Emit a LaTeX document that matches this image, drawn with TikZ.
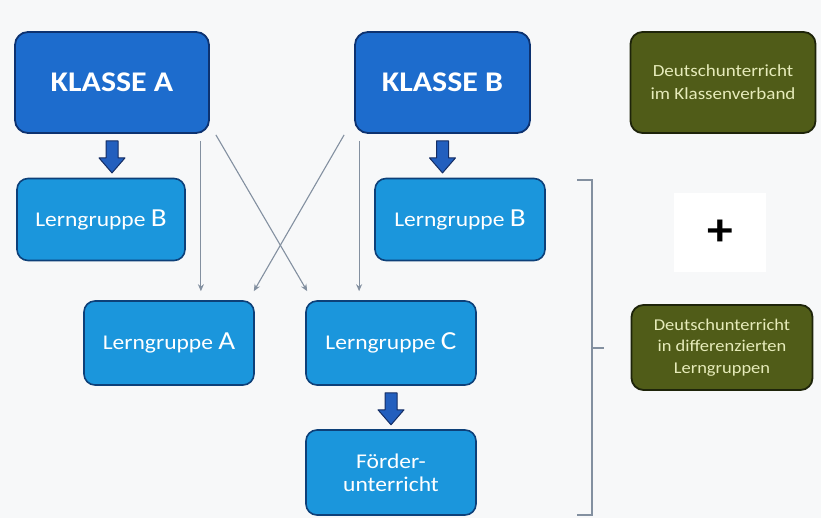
\documentclass[tikz,border=0pt]{standalone}
\usepackage{fontspec}
\setmainfont{Carlito}[FakeStretch=1.12]
\usetikzlibrary{calc,arrows.meta}
\definecolor{bgcol}{HTML}{F7F8F9}
\definecolor{kfill}{HTML}{1D6CCD}
\definecolor{kline}{HTML}{0D3270}
\definecolor{lfill}{HTML}{1B96DC}
\definecolor{lline}{HTML}{0D4079}
\definecolor{gfill}{HTML}{505C18}
\definecolor{gline}{HTML}{1E240A}
\definecolor{gtext}{HTML}{E6EBBA}
\definecolor{afill}{HTML}{235FBE}
\definecolor{aline}{HTML}{142D64}
\definecolor{thin}{HTML}{8390A0}
\tikzset{
  klasse/.style={draw=kline,line width=1.8pt,fill=kfill,rounded corners=13pt,text=white,
    font=\fontsize{28.5}{30}\selectfont\bfseries,minimum height=101pt,inner sep=0pt},
  lern/.style={draw=lline,line width=1.6pt,fill=lfill,rounded corners=11pt,text=white,
    minimum width=170pt,minimum height=84pt,inner sep=0pt,align=center,
    font=\fontsize{21}{23}\selectfont},
  green/.style={draw=gline,line width=1.8pt,fill=gfill,rounded corners=12pt,text=gtext,
    inner sep=0pt,align=center},
  thinarr/.style={draw=thin,line width=1.1pt,-{Stealth[length=7pt,width=6pt]}},
  bracket/.style={draw=thin,line width=1.1pt},
  bigarrow/.pic={\draw[fill=afill,draw=aline,line width=1pt,line join=round]
    (-6,-16) -- (6,-16) -- (6,1) -- (13,1) -- (0,16) -- (-13,1) -- (-6,1) -- cycle;}
}
\newcommand{\bigB}[1]{{\fontsize{26}{26}\selectfont #1}}
\begin{document}
\begin{tikzpicture}[x=1pt,y=-1pt]
\fill[bgcol] (0,0) rectangle (821,518);
\useasboundingbox (0,0) rectangle (821,518);

\node[klasse,minimum width=194pt] (kA) at (112,82.5) {KLASSE A};
\node[klasse,minimum width=175pt] (kB) at (442.5,82.5) {KLASSE B};

\node[lern,minimum width=168pt,minimum height=82pt] (lbA) at (101,219.5) {Lerngruppe \bigB{B}};
\node[lern,minimum height=82pt] (lbB) at (460,219.5) {Lerngruppe \bigB{B}};
\node[lern] (lA) at (169,343) {Lerngruppe \bigB{A}};
\node[lern] (lC) at (391,343) {Lerngruppe \bigB{C}};
\node[lern,minimum height=85pt] (lF) at (391,472.5) {Förder-\\unterricht};

\node[green,minimum width=185pt,minimum height=101pt,font=\fontsize{17}{23}\selectfont] (g1) at (723,82.5)
  {Deutschunterricht\\im Klassenverband};
\node[fill=white,minimum width=92pt,minimum height=79pt,inner sep=0pt,
  font=\fontsize{46}{46}\selectfont\bfseries] (plus) at (720,233) {+};
\node[green,minimum width=181pt,minimum height=85pt,font=\fontsize{16.5}{21.5}\selectfont] (g2) at (722,347.5)
  {Deutschunterricht\\in differenzierten\\Lerngruppen};

\pic at ($(kA.south)+(0,23)$) {bigarrow};
\pic at ($(kB.south)+(0,23)$) {bigarrow};
\pic at ($(lC.south)+(0,23)$) {bigarrow};

\coordinate (a1s) at ($(kA.south east)+(-9,7)$);
\coordinate (lAt) at ($(lA.north)+(0,-9)$);
\coordinate (lCt) at ($(lC.north)+(0,-9)$);
\coordinate (b1s) at ($(kB.south west)+(5,7)$);
\draw[thinarr] (a1s) -- (a1s |- lAt);
\draw[thinarr] ($(kA.south east)+(6,1)$) -- ($(lC.north west)+(2,-9)$);
\draw[thinarr] ($(kB.south west)+(-10,1)$) -- ($(lA.north east)+(-1,-9)$);
\draw[thinarr] (b1s) -- (b1s |- lCt);

\coordinate (bt) at (577,180);
\coordinate (bb) at (577,515);
\coordinate (bm) at (604,348);
\draw[bracket] (bt) -- (592,180) -- (592,515) -- (bb);
\draw[bracket] (592,348) -- (bm);
\end{tikzpicture}
\end{document}
